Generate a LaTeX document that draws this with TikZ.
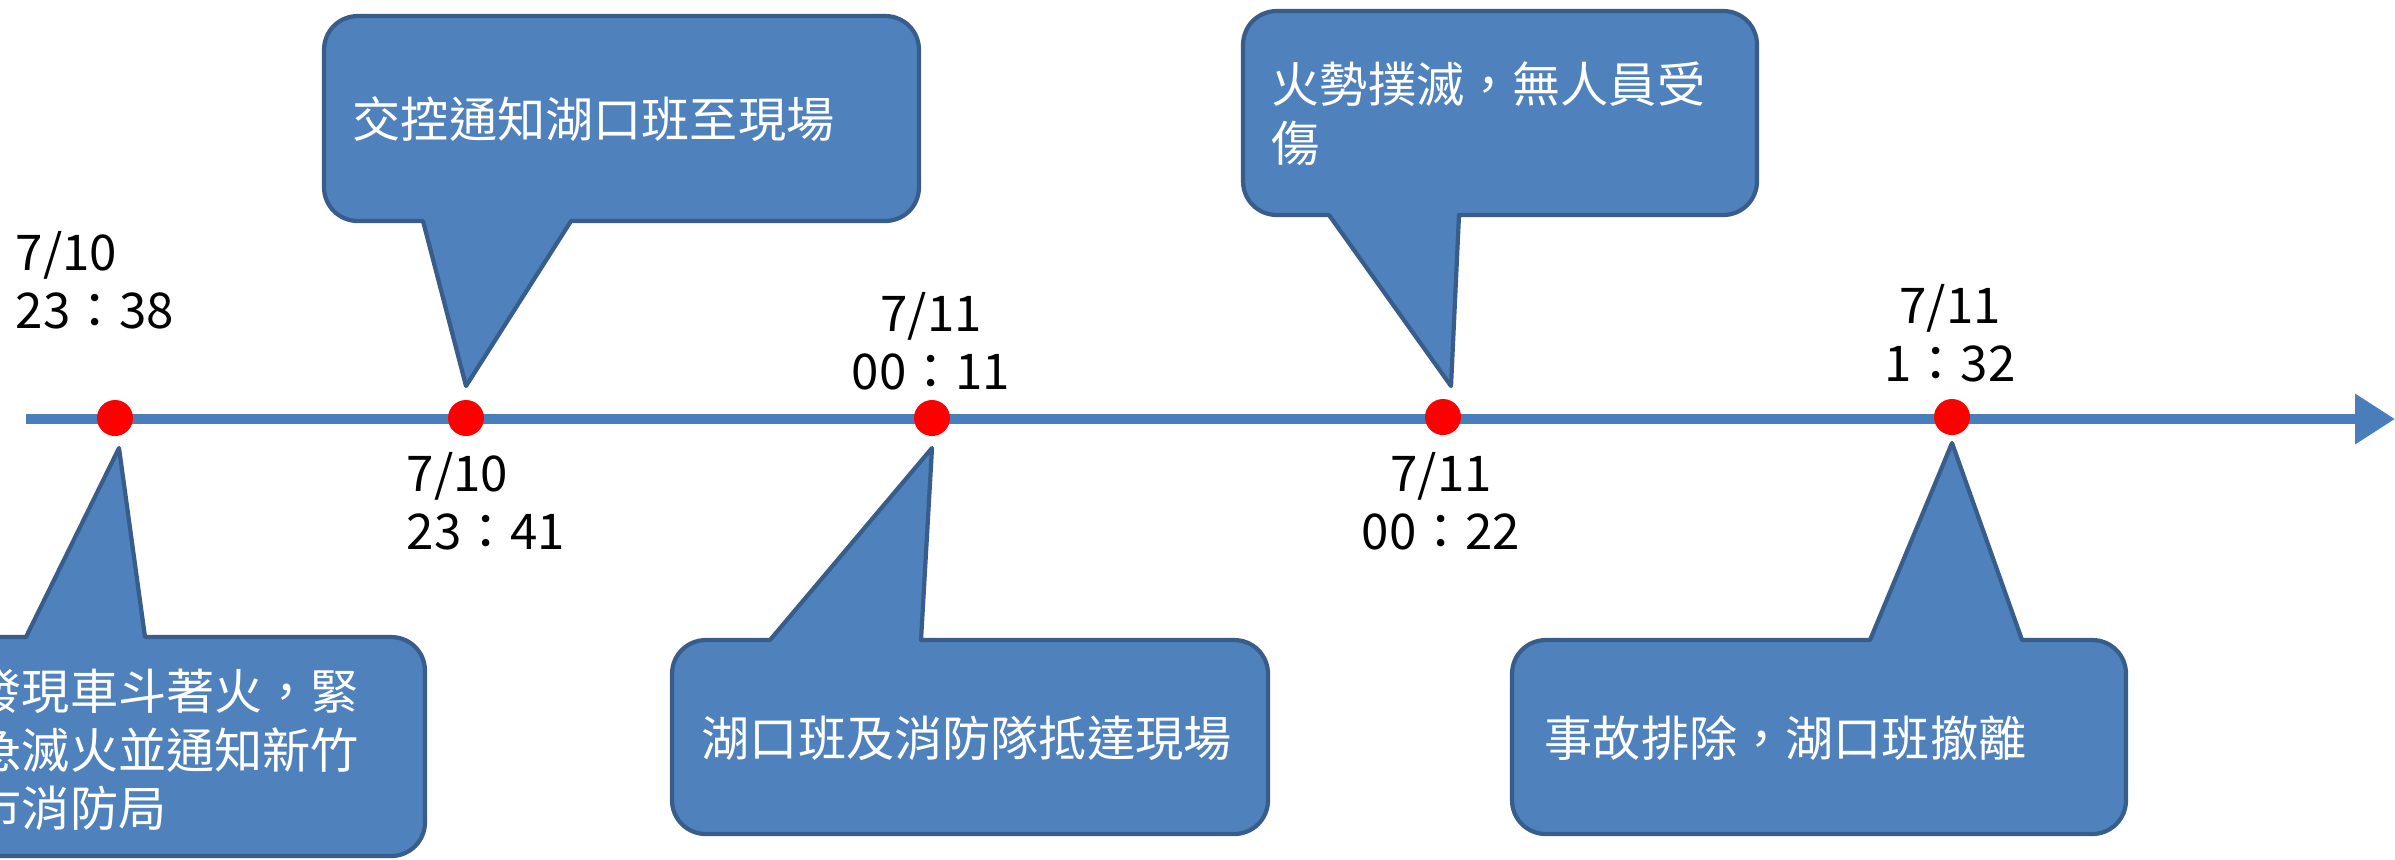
\documentclass[tikz,border=0pt]{standalone}
\usepackage{fontspec}
\setmainfont{Noto Sans CJK TC}
\usetikzlibrary{arrows.meta}
\definecolor{bfill}{HTML}{4F81BD}
\definecolor{bline}{HTML}{385D8A}
\definecolor{tline}{HTML}{4A7EBB}
\tikzset{
  bubble/.style={draw=bline, fill=bfill, line width=1.2pt, line join=round},
  dotmark/.style={circle, fill=red, inner sep=0pt, minimum size=0.36cm},
  btext/.style={text=white, inner sep=0pt, align=left, font=\fontsize{13.7}{16.5}\selectfont},
  dtext/.style={text=black, inner sep=0pt, font=\fontsize{14}{16.5}\selectfont},
}
% pointer on bottom edge
\newcommand\bubbledown[8]{%
 \draw[bubble] ({#1+34},#2) -- ({#3-34},#2) .. controls ({#3-15},#2) and (#3,{#2+15}) .. (#3,{#2+34})
   -- (#3,{#4-34}) .. controls (#3,{#4-15}) and ({#3-15},#4) .. ({#3-34},#4)
   -- (#6,#4) -- (#7,#8) -- (#5,#4)
   -- ({#1+34},#4) .. controls ({#1+15},#4) and (#1,{#4-15}) .. (#1,{#4-34})
   -- (#1,{#2+34}) .. controls (#1,{#2+15}) and ({#1+15},#2) .. ({#1+34},#2) -- cycle;}
% pointer on top edge
\newcommand\bubbleup[8]{%
 \draw[bubble] ({#1+34},#2) -- (#5,#2) -- (#7,#8) -- (#6,#2)
   -- ({#3-34},#2) .. controls ({#3-15},#2) and (#3,{#2+15}) .. (#3,{#2+34})
   -- (#3,{#4-34}) .. controls (#3,{#4-15}) and ({#3-15},#4) .. ({#3-34},#4)
   -- ({#1+34},#4) .. controls ({#1+15},#4) and (#1,{#4-15}) .. (#1,{#4-34})
   -- (#1,{#2+34}) .. controls (#1,{#2+15}) and ({#1+15},#2) .. ({#1+34},#2) -- cycle;}
\begin{document}
\begin{tikzpicture}[x=0.01cm, y=-0.01cm]
\useasboundingbox (0,0) rectangle (2395,859);
\clip (0,0) rectangle (2395,859);
% timeline
\coordinate (tl0) at (26,419);
\coordinate (tl1) at (2395,419);
\draw[tline, line width=2.85pt, -{Triangle[length=0.4cm, width=0.48cm]}] (tl0) -- (tl1);
% dots
\node[dotmark] (d1) at (115,418) {};
\node[dotmark] (d2) at (466,418) {};
\node[dotmark] (d3) at (932,418) {};
\node[dotmark] (d4) at (1443,417) {};
\node[dotmark] (d5) at (1952,417) {};
% callouts
\bubbleup{-80}{637}{425}{856}{26}{145}{119}{448}
\bubbledown{324}{16}{919}{221}{423}{571}{466}{386}
\bubbleup{672}{640}{1268}{834}{770}{921}{932}{448}
\bubbledown{1243}{11}{1757}{215}{1329}{1459}{1451}{386}
\bubbleup{1512}{640}{2126}{834}{1870}{2022}{1952}{443}
% callout texts (base anchor = baseline of last line)
\node[btext, anchor=base west] (t1) at (-27,826) {發現車斗著火，緊\\急滅火並通知新竹\\市消防局};
\node[btext, anchor=base west] (t2) at (352,137) {交控通知湖口班至現場};
\node[btext, anchor=base west] (t3) at (701,756) {湖口班及消防隊抵達現場};
\node[btext, anchor=base west] (t4) at (1271,161) {火勢撲滅，無人員受\\傷};
\node[btext, anchor=base west] (t5) at (1544,756) {事故排除，湖口班撤離};
% date labels
\node[dtext, align=left, anchor=base west] (l1) at (15,328) {7/10\\23：38};
\node[dtext, align=left, anchor=base west] (l2) at (406,549) {7/10\\23：41};
\node[dtext, align=center, anchor=base] (l3) at (931,389) {7/11\\00：11};
\node[dtext, align=center, anchor=base] (l4) at (1441,549) {7/11\\00：22};
\node[dtext, align=center, anchor=base] (l5) at (1950,381) {7/11\\1：32};
\end{tikzpicture}
\end{document}
